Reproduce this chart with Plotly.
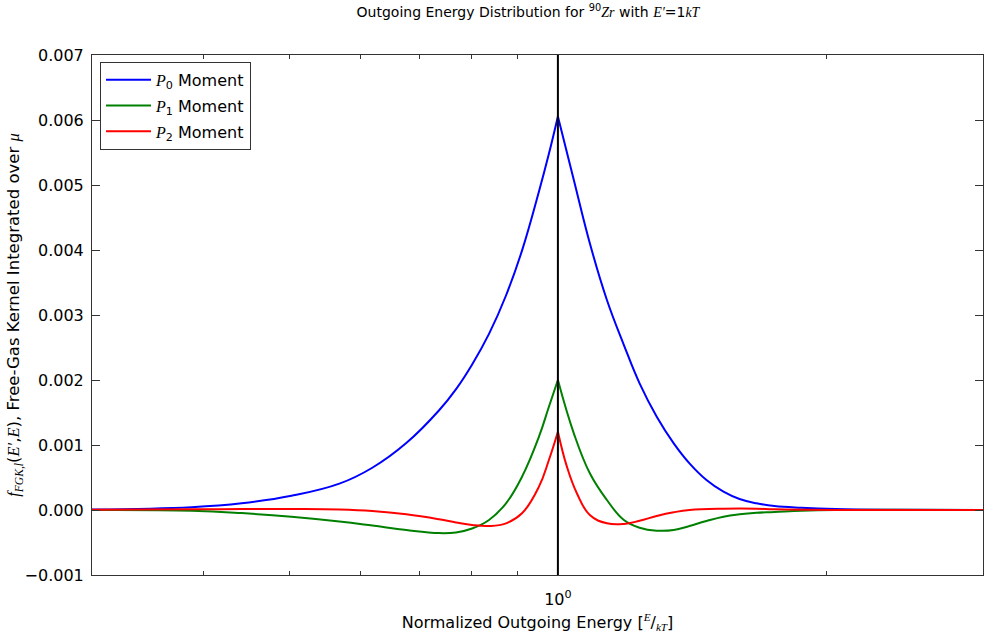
import plotly.graph_objects as go

# Normalized outgoing energy E/kT and kernel moments
e_p0 = [0.300, 0.388, 0.4416, 0.5023, 0.5685, 0.6190, 0.6758, 0.7357, 0.7686, 0.8012, 0.8369, 0.8745,
        0.9114, 0.9522, 0.9770, 1.0, 1.042, 1.086, 1.135, 1.186, 1.235, 1.291, 1.349, 1.405, 1.468,
        1.534, 1.599, 1.671, 1.750, 1.876, 2.048, 2.409, 3.0]
p0 = [0.000008, 0.000044, 0.000103, 0.000218, 0.000405, 0.000650, 0.001030, 0.001535, 0.00186, 0.002240,
      0.002710, 0.003300, 0.003990, 0.004900, 0.005480, 0.006054, 0.005077, 0.004103, 0.003231, 0.002538,
      0.001949, 0.001436, 0.001026, 0.000718, 0.000462, 0.000282, 0.000169, 0.000103, 0.000062, 0.000035,
      0.000015, 0.000003, 0.0]

e_p1 = [0.300, 0.388, 0.4416, 0.5023, 0.5685, 0.6190, 0.6758, 0.7357, 0.7686, 0.8012, 0.8369, 0.8745,
        0.9114, 0.9522, 0.9770, 1.0, 1.042, 1.086, 1.135, 1.186, 1.235, 1.291, 1.349, 1.405, 1.468,
        1.534, 1.599, 1.671, 1.750, 1.876, 2.048, 3.0]
p1 = [0.0, -0.000011, -0.000048, -0.000105, -0.000178, -0.000240, -0.000308, -0.000355, -0.000345, -0.000285,
      -0.000154, 0.000103, 0.000512, 0.001128, 0.001589, 0.002000, 0.00118, 0.000565, 0.000154,
      -0.000154, -0.000272, -0.000318, -0.000308, -0.000246, -0.000169, -0.000103, -0.000066, -0.000042,
      -0.000031, -0.000011, 0.0, 0.0]

e_p2 = [0.300, 0.388, 0.4416, 0.5023, 0.5685, 0.6190, 0.6758, 0.7357, 0.7686, 0.8012, 0.8369, 0.8745,
        0.9114, 0.9522, 0.9770, 1.0, 1.0235, 1.0502, 1.086, 1.135, 1.186, 1.235, 1.291, 1.349, 1.405,
        1.534, 1.671, 1.750, 2.048, 3.0]
p2 = [0.000005, 0.00001, 0.000015, 0.000015, 0.000008, -0.000015, -0.000066, -0.000143, -0.000192, -0.000231,
      -0.000246, -0.000205, -0.000051, 0.000359, 0.000769, 0.001205, 0.000667, 0.000257, -0.000077,
      -0.000205, -0.000215, -0.000165, -0.000092, -0.000035, 0.0, 0.00002, 0.00002, 0.00001, 0.0, 0.0]

SERIF = "<span style=\"font-family:'Liberation Serif'\"><i>{}</i></span>"


def m(s):
    return SERIF.format(s)


series = [
    (m("P") + "<sub>0</sub> Moment", e_p0, p0, "#0000ff"),
    (m("P") + "<sub>1</sub> Moment", e_p1, p1, "#008000"),
    (m("P") + "<sub>2</sub> Moment", e_p2, p2, "#ff0000"),
]

y_range = [-0.001, 0.007]
y_ticks = [-0.001, 0.0, 0.001, 0.002, 0.003, 0.004, 0.005, 0.006, 0.007]
x_minor = [0.3, 0.4, 0.5, 0.6, 0.7, 0.8, 0.9, 2.0, 3.0]
incident_e = 1.0

fig = go.Figure()
for i, (name, xs, ys, col) in enumerate(series):
    k = xs.index(incident_e)
    # left branch (carries the legend entry) and right branch, joined at the cusp
    for part, (px, py) in enumerate([(xs[:k + 1], ys[:k + 1]), (xs[k:], ys[k:])]):
        fig.add_trace(go.Scatter(x=px, y=py, mode="lines", name=name,
                                 legendgroup=f"g{i}", showlegend=(part == 0),
                                 line=dict(color=col, width=2, shape="spline", smoothing=1.2)))

fig.add_shape(type="line", xref="x", yref="y", x0=incident_e, x1=incident_e,
              y0=y_range[0], y1=y_range[1], line=dict(color="black", width=2))

title_txt = ("Outgoing Energy Distribution for <sup>90</sup>" + m("Zr") + " with " + m("E′")
             + "=1" + m("kT"))
ylab = (m("f") + "<sub>" + m("FGK,l") + "</sub>(" + m("E′") + "," + m("E")
        + "), Free-Gas Kernel Integrated over " + m("μ"))
xlab = "Normalized Outgoing Energy [<sup>" + m("E") + "</sup>/<sub>" + m("kT") + "</sub>]"

fig.update_layout(
    width=984, height=635,
    margin=dict(l=92, r=1, t=55, b=60),
    paper_bgcolor="white", plot_bgcolor="white",
    font=dict(family="DejaVu Sans", color="black"),
    title=dict(text=title_txt, x=528 / 984, xanchor="center", y=1 - 12 / 635, yanchor="middle",
               font=dict(size=14)),
    showlegend=True,
    legend=dict(x=0.009, y=0.987, xanchor="left", yanchor="top",
                bgcolor="white", bordercolor="#333", borderwidth=1,
                font=dict(size=16), itemwidth=45, tracegroupgap=2),
    xaxis=dict(type="log", range=[-0.5229, 0.4771], showgrid=False, zeroline=False,
               tickvals=[1], ticktext=["10<sup>0</sup>"], ticks="inside", ticklen=8,
               tickcolor="#333", showline=True, linecolor="#333", linewidth=1, mirror="allticks",
               tickfont=dict(size=16), ticklabelstandoff=10,
               minor=dict(tickvals=x_minor, ticks="inside", ticklen=4, tickcolor="#333"),
               title=dict(text=xlab, font=dict(size=16), standoff=8)),
    yaxis=dict(range=y_range, showgrid=False, zeroline=False, tickvals=y_ticks,
               tickformat=".3f", ticks="inside", ticklen=8, tickcolor="#333",
               showline=True, linecolor="#333", linewidth=1, mirror="allticks",
               tickfont=dict(size=16), ticklabelstandoff=4,
               title=dict(text=ylab, font=dict(size=16.5), standoff=0)),
)

fig.write_html("out.html")
